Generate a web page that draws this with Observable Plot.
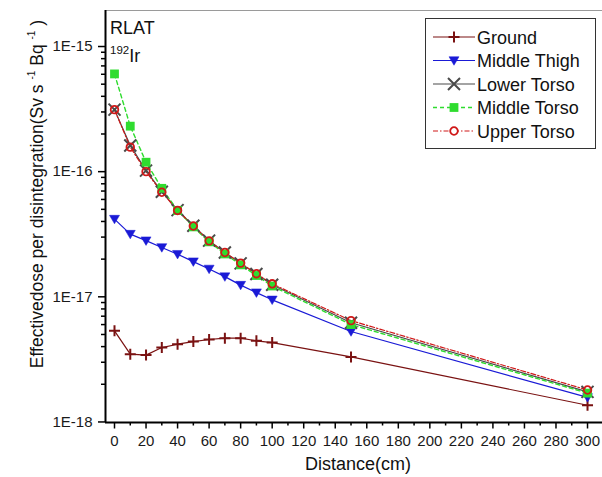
<!DOCTYPE html>
<html>
<head>
<meta charset="utf-8">
<script src="https://cdn.jsdelivr.net/npm/d3@7"></script>
<script src="https://cdn.jsdelivr.net/npm/@observablehq/plot@0.6"></script>
<style>
  html, body { margin: 0; padding: 0; background: #fff; }
  #wrap { position: relative; width: 602px; height: 477px; font-family: "Liberation Sans", Arial, sans-serif; }
  #wrap svg { display: block; }
  #overlay { position: absolute; left: 0; top: 0; pointer-events: none; }
</style>
</head>
<body>
<div id="wrap"></div>
<script>
// ---- data ----
const seriesNames = ["Ground", "Middle Thigh", "Lower Torso", "Middle Torso", "Upper Torso"];
const distances = [0, 10, 20, 30, 40, 50, 60, 70, 80, 90, 100, 150, 300];
const ground      = [5.35e-18, 3.48e-18, 3.42e-18, 3.93e-18, 4.18e-18, 4.39e-18, 4.56e-18, 4.67e-18, 4.67e-18, 4.45e-18, 4.31e-18, 3.31e-18, 1.36e-18];
const middleThigh = [4.18e-17, 3.17e-17, 2.81e-17, 2.48e-17, 2.19e-17, 1.91e-17, 1.67e-17, 1.45e-17, 1.24e-17, 1.08e-17, 9.46e-18, 5.28e-18, 1.57e-18];
const lowerTorso  = [3.13e-16, 1.62e-16, 1.02e-16, 6.92e-17, 4.93e-17, 3.70e-17, 2.81e-17, 2.26e-17, 1.85e-17, 1.52e-17, 1.25e-17, 6.20e-18, 1.74e-18];
const middleTorso = [6.04e-16, 2.31e-16, 1.19e-16, 7.36e-17, 4.90e-17, 3.62e-17, 2.75e-17, 2.20e-17, 1.80e-17, 1.48e-17, 1.22e-17, 6.00e-18, 1.70e-18];
const upperTorso  = [3.13e-16, 1.57e-16, 1.00e-16, 6.85e-17, 4.90e-17, 3.68e-17, 2.80e-17, 2.26e-17, 1.86e-17, 1.53e-17, 1.27e-17, 6.45e-18, 1.80e-18];
const yTickValues = [1e-18, 1e-17, 1e-16, 1e-15];
const yTickLabels = ["1E-18", "1E-17", "1E-16", "1E-15"];
const xTickValues = [0, 20, 40, 60, 80, 100, 120, 140, 160, 180, 200, 220, 240, 260, 280, 300];
const xMinorValues = [10, 30, 50, 70, 90, 110, 130, 150, 170, 190, 210, 230, 250, 270, 290];
const xLabel = "Distance(cm)";

// ---- table ----
const valuesBySeries = [ground, middleThigh, lowerTorso, middleTorso, upperTorso];
const rows = [];
seriesNames.forEach((s, i) => distances.forEach((d, j) => rows.push({series: s, x: d, y: valuesBySeries[i][j]})));

// minor log ticks
const yMinor = [];
for (let e = -18; e <= -15; e++) for (let m = 2; m <= 9; m++) { const v = m * Math.pow(10, e); if (v < 1.94e-15) yMinor.push(v); }

// ---- symbols ----
const rOf = size => Math.sqrt(size / Math.PI);
const symPlus = {draw(c, size) { const r = rOf(size); c.moveTo(-r, 0); c.lineTo(r, 0); c.moveTo(0, -r); c.lineTo(0, r); }};
const symTimes = {draw(c, size) { const r = rOf(size); c.moveTo(-r, -r); c.lineTo(r, r); c.moveTo(-r, r); c.lineTo(r, -r); }};
const symTriDown = {draw(c, size) { const r = rOf(size); c.moveTo(-r, -r * 0.75); c.lineTo(r, -r * 0.75); c.lineTo(0, r * 0.95); c.closePath(); }};
const symSquare = {draw(c, size) { const r = rOf(size); c.rect(-r, -r, 2 * r, 2 * r); }};
const symCircle = {draw(c, size) { const r = rOf(size); c.moveTo(r, 0); c.arc(0, 0, r, 0, 2 * Math.PI); }};

const styles = {
  "Ground":       {color: "#7a1212", width: 1.2, dash: null,    sym: symPlus,    r: 5.5, fill: "none",    sw: 2},
  "Middle Thigh": {color: "#1a1ad6", width: 1.2, dash: null,    sym: symTriDown, r: 5,   fill: "#1a1ad6", sw: 0.5},
  "Lower Torso":  {color: "#4a4a4a", width: 1.2, dash: null,    sym: symTimes,   r: 6,   fill: "none",    sw: 2},
  "Middle Torso": {color: "#2fdc2f", width: 1.4, dash: "4,3",   sym: symSquare,  r: 4.4, fill: "#2fdc2f", sw: 0},
  "Upper Torso":  {color: "#d01818", width: 1.2, dash: "5,2,1.5,2", sym: symCircle, r: 3.8, fill: "none", sw: 1.8}
};

const xDomain = [-5.71, 309.5];
const yDomain = [0.99e-18, 1.94e-15];

const marks = [
  Plot.frame({stroke: "#9a9a9a", strokeWidth: 1}),
  Plot.axisY(yMinor, {anchor: "left", tickSize: 4, tickFormat: () => "", label: null, strokeWidth: 1.5}),
  Plot.axisY(yTickValues, {anchor: "left", tickSize: 7, tickPadding: 6, tickFormat: d => yTickLabels[yTickValues.indexOf(d)], label: null, strokeWidth: 1.5, fontSize: 15, fill: "#1a1a1a"}),
  Plot.axisX(xMinorValues, {anchor: "bottom", tickSize: 3.5, tickFormat: () => "", label: null, strokeWidth: 1.5}),
  Plot.axisX(xTickValues, {anchor: "bottom", tickSize: 6.5, tickPadding: 6, label: null, strokeWidth: 1.5, fontSize: 15, fill: "#1a1a1a"}),
  Plot.ruleX([xDomain[0]], {stroke: "#000", strokeWidth: 2}),
  Plot.ruleY([yDomain[0]], {stroke: "#000", strokeWidth: 2})
];
for (const s of seriesNames) {
  const st = styles[s];
  marks.push(Plot.line(rows, {filter: d => d.series === s, x: "x", y: "y", stroke: st.color, strokeWidth: st.width, strokeDasharray: st.dash}));
}
for (const s of seriesNames) {
  const st = styles[s];
  marks.push(Plot.dot(rows, {filter: d => d.series === s, x: "x", y: "y", symbol: () => st.sym, r: st.r, fill: st.fill, stroke: st.color, strokeWidth: st.sw}));
}

const chart = Plot.plot({
  width: 602, height: 477,
  marginLeft: 105, marginTop: 10, marginBottom: 55, marginRight: 0,
  style: {fontFamily: '"Liberation Sans", Arial, sans-serif', fontSize: "15px", background: "#fff", color: "#000"},
  x: {domain: xDomain},
  y: {type: "log", domain: yDomain},
  symbol: {type: "identity"},
  marks
});
document.getElementById("wrap").appendChild(chart);

// ---- overlay: texts & legend ----
const ov = d3.select("#wrap").append("svg").attr("id", "overlay").attr("width", 602).attr("height", 477)
  .style("font-family", '"Liberation Sans", Arial, sans-serif');

ov.append("text").attr("x", 110).attr("y", 33.5).attr("font-size", 18).attr("fill", "#111").text("RLAT");
const ir = ov.append("text").attr("x", 110).attr("y", 62).attr("fill", "#111");
ir.append("tspan").attr("font-size", 11.5).attr("dy", -8).text("192");
ir.append("tspan").attr("font-size", 18).attr("dy", 8).text("Ir");

ov.append("text").attr("x", 358).attr("y", 470).attr("text-anchor", "middle").attr("font-size", 18).attr("fill", "#111").text(xLabel);

const yl = ov.append("text").attr("transform", "translate(43,194) rotate(-90)").attr("text-anchor", "middle").attr("font-size", 17.5).attr("fill", "#111");
yl.append("tspan").text("Effectivedose per disintegration(Sv s ");
yl.append("tspan").attr("font-size", 10).attr("dy", -8).text("-1");
yl.append("tspan").attr("dy", 8).text(" Bq ");
yl.append("tspan").attr("font-size", 10).attr("dy", -8).text("-1");
yl.append("tspan").attr("dy", 8).text(" )");

const lg = ov.append("g");
lg.append("rect").attr("x", 425.5).attr("y", 18.5).attr("width", 170).attr("height", 130).attr("fill", "#fff").attr("stroke", "#333").attr("stroke-width", 1);
seriesNames.forEach((s, i) => {
  const st = styles[s];
  const cy = 37 + i * 23.5;
  lg.append("line").attr("x1", 433).attr("x2", 475).attr("y1", cy).attr("y2", cy).attr("stroke", st.color).attr("stroke-width", st.width).attr("stroke-dasharray", st.dash);
  lg.append("path").attr("transform", `translate(454,${cy})`).attr("d", d3.symbol(st.sym, Math.PI * st.r * st.r)())
    .attr("fill", st.fill === "none" ? (s === "Upper Torso" ? "#fff" : "none") : st.fill).attr("stroke", st.color).attr("stroke-width", st.sw);
  lg.append("text").attr("x", 477).attr("y", cy + 6.5).attr("font-size", 18).attr("fill", "#111").text(s);
});
</script>
</body>
</html>
